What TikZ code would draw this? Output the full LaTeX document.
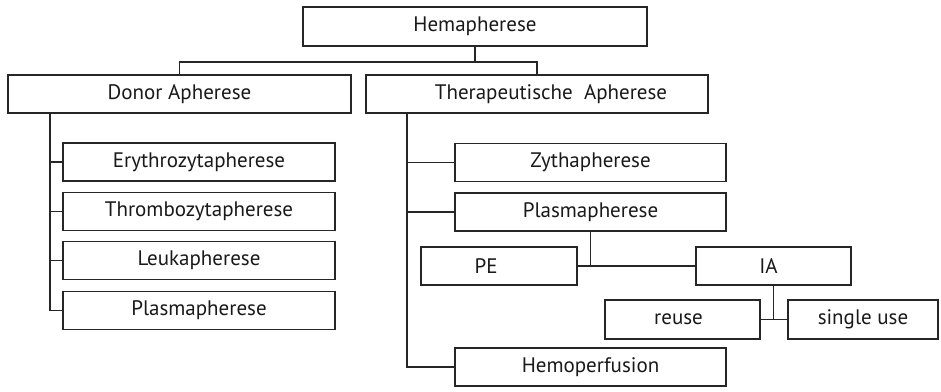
\documentclass[tikz,border=0pt]{standalone}
\usepackage{fontspec}
\setmainfont{PT Sans}
\begin{document}
\begin{tikzpicture}[x=1pt,y=-1pt,
  box/.style={draw=black!85,line width=1.2pt,rectangle,inner sep=0pt,
    font=\fontsize{21}{24}\selectfont,text=black!90},
  conn/.style={draw=black!85,line width=1.2pt}]
\useasboundingbox (0,0) rectangle (941,391);
% top
\node[box,minimum width=344pt,minimum height=39pt] (hem) at (475,26.5) {Hemapherese};
\node[box,minimum width=343pt,minimum height=38pt] (donor) at (179.5,94) {Donor Apherese};
\node[box,minimum width=342pt,minimum height=38pt] (thera) at (537,94) {\hspace*{28pt}Therapeutische\ \ Apherese};
% donor children
\node[box,minimum width=272pt,minimum height=38pt] (ery) at (199,162) {Erythrozytapherese};
\node[box,minimum width=272pt,minimum height=38pt] (thr) at (199,211.5) {Thrombozytapherese};
\node[box,minimum width=272pt,minimum height=38pt] (leu) at (199,260.5) {Leukapherese};
\node[box,minimum width=272pt,minimum height=38pt] (plL) at (199,310.5) {Plasmapherese};
% thera children
\node[box,minimum width=271pt,minimum height=38pt] (zyt) at (590.5,162.5) {Zythapherese};
\node[box,minimum width=271pt,minimum height=38pt] (plR) at (590.5,212) {Plasmapherese};
\node[box,minimum width=271pt,minimum height=38pt] (hpf) at (590.5,367) {Hemoperfusion};
\node[box,minimum width=156pt,minimum height=38pt] (pe) at (499,266) {PE\hspace*{26pt}};
\node[box,minimum width=155pt,minimum height=38pt] (ia) at (773.5,266) {IA\hspace*{10pt}};
\node[box,minimum width=155pt,minimum height=39pt] (reu) at (682.5,319.5) {reuse\hspace*{8pt}};
\node[box,minimum width=150pt,minimum height=39pt] (sgl) at (863,319.5) {single use};
% connectors
\coordinate (j1) at (475,62);
\draw[conn] (hem.south) -- (j1);
\draw[conn] (donor.north) |- (j1) -| (thera.north);
\coordinate (dt) at (50,113);
\draw[conn] (dt) |- (plL.west);
\draw[conn] (dt |- ery.west) -- (ery.west);
\draw[conn] (dt |- thr.west) -- (thr.west);
\draw[conn] (dt |- leu.west) -- (leu.west);
\coordinate (tt) at (407,113);
\draw[conn] (tt) |- (hpf.west);
\draw[conn] (tt |- zyt.west) -- (zyt.west);
\draw[conn] (tt |- plR.west) -- (plR.west);
\draw[conn] (plR.south) -- (plR.south |- pe.east);
\draw[conn] (pe.east) -- (ia.west);
\draw[conn] (ia.south) -- (ia.south |- reu.east);
\draw[conn] (reu.east) -- (sgl.west);
\end{tikzpicture}
\end{document}
